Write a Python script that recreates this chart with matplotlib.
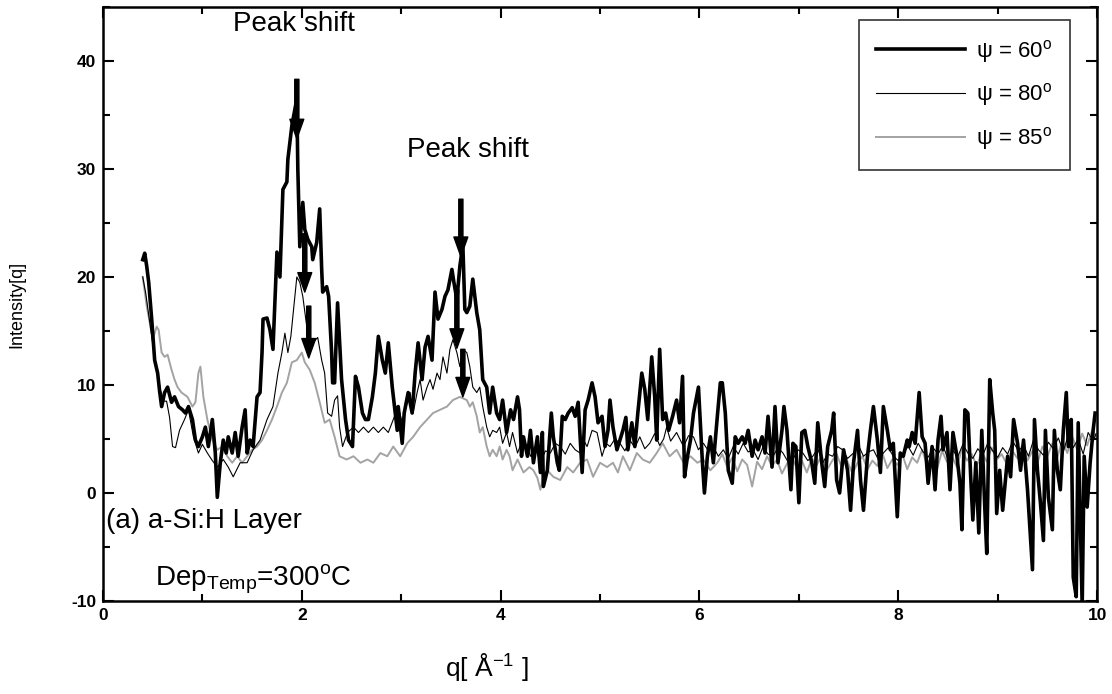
"""
Intensity vs q for a-Si:H layer at three psi angles (out.png).
"""

import matplotlib
matplotlib.use("Agg")
import matplotlib.pyplot as plt
from matplotlib.ticker import MultipleLocator

plt.rcParams["font.family"] = "Liberation Sans"
plt.rcParams["mathtext.fontset"] = "custom"
plt.rcParams["mathtext.rm"] = "Liberation Sans"
plt.rcParams["mathtext.it"] = "Liberation Sans:italic"
plt.rcParams["axes.unicode_minus"] = False

# psi = 60 deg (thick black)
q60 = [0.40, 0.42, 0.44, 0.46, 0.49, 0.52, 0.55, 0.57, 0.59, 0.62,
       0.65, 0.69, 0.72, 0.76, 0.80, 0.83, 0.86, 0.90, 0.93, 0.96,
       1.00, 1.03, 1.06, 1.10, 1.13, 1.15, 1.18, 1.21, 1.24, 1.26,
       1.30, 1.33, 1.36, 1.40, 1.43, 1.45, 1.48, 1.51, 1.55, 1.58,
       1.60, 1.61, 1.65, 1.68, 1.71, 1.75, 1.78, 1.81, 1.85, 1.86,
       1.90, 1.93, 1.95, 1.96, 1.98, 2.01, 2.03, 2.06, 2.10, 2.11,
       2.15, 2.18, 2.20, 2.21, 2.25, 2.27, 2.30, 2.31, 2.33, 2.36,
       2.40, 2.44, 2.47, 2.51, 2.54, 2.57, 2.61, 2.64, 2.67, 2.71,
       2.74, 2.77, 2.81, 2.84, 2.87, 2.91, 2.94, 2.96, 2.97, 3.01,
       3.03, 3.07, 3.11, 3.14, 3.17, 3.21, 3.24, 3.27, 3.31, 3.34,
       3.37, 3.41, 3.44, 3.47, 3.51, 3.53, 3.56, 3.59, 3.62, 3.64,
       3.66, 3.69, 3.72, 3.76, 3.79, 3.82, 3.86, 3.89, 3.92, 3.96,
       3.99, 4.02, 4.06, 4.10, 4.13, 4.17, 4.19, 4.21, 4.23, 4.27,
       4.30, 4.33, 4.37, 4.40, 4.42, 4.43, 4.47, 4.51, 4.53, 4.57,
       4.59, 4.62, 4.65, 4.68, 4.72, 4.75, 4.78, 4.82, 4.85, 4.88,
       4.92, 4.95, 4.98, 5.02, 5.05, 5.08, 5.10, 5.13, 5.17, 5.20,
       5.23, 5.26, 5.28, 5.32, 5.35, 5.38, 5.42, 5.45, 5.48, 5.52,
       5.55, 5.57, 5.60, 5.63, 5.66, 5.69, 5.73, 5.77, 5.80, 5.83,
       5.85, 5.88, 5.91, 5.94, 5.99, 6.03, 6.05, 6.08, 6.11, 6.14,
       6.18, 6.21, 6.23, 6.26, 6.29, 6.33, 6.36, 6.39, 6.43, 6.46,
       6.49, 6.53, 6.56, 6.59, 6.63, 6.66, 6.69, 6.73, 6.76, 6.79,
       6.83, 6.85, 6.88, 6.92, 6.94, 6.97, 7.00, 7.03, 7.06, 7.09,
       7.13, 7.16, 7.19, 7.23, 7.26, 7.29, 7.33, 7.35, 7.38, 7.41,
       7.45, 7.49, 7.52, 7.55, 7.59, 7.62, 7.65, 7.69, 7.72, 7.75,
       7.79, 7.82, 7.85, 7.89, 7.92, 7.95, 7.99, 8.02, 8.05, 8.09,
       8.11, 8.14, 8.17, 8.21, 8.24, 8.27, 8.30, 8.34, 8.37, 8.40,
       8.43, 8.45, 8.49, 8.52, 8.55, 8.59, 8.62, 8.64, 8.67, 8.70,
       8.73, 8.75, 8.78, 8.81, 8.84, 8.87, 8.89, 8.92, 8.95, 8.97,
       8.99, 9.02, 9.05, 9.10, 9.13, 9.16, 9.20, 9.23, 9.26, 9.30,
       9.33, 9.35, 9.37, 9.40, 9.43, 9.46, 9.48, 9.51, 9.55, 9.57,
       9.60, 9.63, 9.66, 9.69, 9.71, 9.74, 9.76, 9.79, 9.81, 9.85,
       9.87, 9.90, 9.93, 9.96, 9.98]
i60 = [21.6, 22.2, 21.0, 19.5, 16.1, 12.3, 11.1, 9.4, 8.0, 9.3,
       9.8, 8.4, 8.9, 8.0, 7.7, 7.4, 8.0, 6.8, 4.9, 4.3,
       5.2, 6.1, 4.3, 6.8, 3.7, -0.4, 2.8, 4.9, 3.7, 5.2,
       3.7, 5.6, 3.4, 6.1, 7.7, 3.7, 4.9, 4.3, 8.9, 9.3,
       13.0, 16.1, 16.2, 15.1, 13.3, 22.3, 20.0, 28.1, 28.8, 30.9,
       34.0, 35.5, 36.5, 30.0, 22.8, 26.9, 24.4, 23.5, 22.8, 21.6,
       23.2, 26.3, 20.7, 18.6, 19.1, 18.2, 13.0, 10.2, 10.2, 17.6,
       10.5, 6.8, 4.9, 4.3, 10.8, 9.8, 7.4, 6.8, 6.8, 8.9,
       11.1, 14.5, 12.3, 11.1, 13.9, 9.8, 7.4, 5.8, 8.0, 4.6,
       7.4, 9.3, 7.4, 11.1, 13.9, 10.5, 13.5, 14.5, 12.3, 18.6,
       16.1, 17.0, 18.2, 18.8, 20.7, 19.5, 17.9, 21.0, 23.0, 17.0,
       16.7, 17.3, 19.8, 16.7, 15.1, 10.5, 9.8, 7.4, 9.8, 7.4,
       6.8, 8.6, 5.6, 7.7, 6.8, 8.9, 7.7, 3.4, 5.2, 3.4,
       5.8, 2.8, 5.2, 1.9, 5.6, 0.6, 2.1, 7.4, 5.2, 2.8,
       2.1, 7.1, 6.8, 7.4, 7.9, 7.1, 8.4, 1.9, 7.7, 8.6,
       10.2, 8.9, 6.5, 7.1, 4.3, 5.8, 8.6, 6.1, 4.0, 4.9,
       5.8, 7.0, 4.0, 6.5, 4.3, 7.4, 11.1, 9.6, 6.8, 12.6,
       8.9, 4.9, 13.3, 6.8, 7.4, 5.8, 7.1, 8.6, 6.5, 10.8,
       1.5, 3.4, 4.9, 7.4, 9.8, 2.8, 0.0, 3.4, 5.2, 2.8,
       7.1, 10.2, 10.2, 7.4, 2.1, 0.9, 5.2, 4.6, 5.2, 4.6,
       5.8, 3.4, 4.9, 4.0, 5.2, 3.7, 7.1, 2.4, 8.0, 2.8,
       5.8, 8.0, 5.8, 0.3, 4.6, 4.3, -0.9, 5.6, 5.8, 4.3,
       2.8, 0.9, 6.5, 2.8, 0.6, 4.3, 5.8, 7.4, 1.2, 0.0,
       4.0, 2.1, -1.6, 2.8, 5.8, 1.2, -1.6, 3.4, 5.8, 8.0,
       4.9, 1.9, 8.0, 5.8, 4.0, 4.6, -2.2, 3.7, 3.4, 4.9,
       4.3, 5.6, 4.6, 9.3, 5.2, 4.6, 0.9, 4.3, 0.3, 4.9,
       7.1, 4.0, 5.6, 0.3, 5.6, 3.4, 0.9, -3.4, 7.7, 7.4,
       1.2, -2.5, 2.8, -3.7, 5.8, -1.3, -5.6, 10.5, 7.4, 5.8,
       -1.9, 2.1, -1.6, 3.4, 1.5, 6.8, 4.6, 2.1, 4.9, 0.3,
       -4.1, -7.1, 6.8, 2.1, -0.9, -4.4, 5.8, -0.4, -3.4, 5.8,
       2.1, 0.3, 5.8, 9.3, 4.3, 6.8, -7.8, -9.6, 6.5, -10.5,
       3.4, -1.3, 2.8, 5.8, 7.4]

# psi = 80 deg (thin black)
q80 = [0.40, 0.43, 0.46, 0.49, 0.52, 0.55, 0.58, 0.61, 0.64, 0.67,
       0.70, 0.73, 0.77, 0.82, 0.86, 0.91, 0.96, 1.00, 1.05, 1.10,
       1.15, 1.21, 1.26, 1.31, 1.38, 1.45, 1.51, 1.58, 1.65, 1.71,
       1.76, 1.80, 1.83, 1.86, 1.89, 1.92, 1.95, 1.98, 2.01, 2.05,
       2.08, 2.11, 2.16, 2.20, 2.23, 2.26, 2.30, 2.33, 2.36, 2.38,
       2.41, 2.46, 2.52, 2.57, 2.62, 2.67, 2.72, 2.77, 2.82, 2.87,
       2.92, 2.97, 3.01, 3.04, 3.09, 3.12, 3.16, 3.19, 3.22, 3.26,
       3.29, 3.32, 3.36, 3.39, 3.42, 3.46, 3.49, 3.52, 3.56, 3.59,
       3.62, 3.66, 3.69, 3.72, 3.76, 3.79, 3.82, 3.86, 3.89, 3.92,
       3.96, 3.99, 4.02, 4.06, 4.09, 4.12, 4.17, 4.22, 4.27, 4.30,
       4.35, 4.40, 4.45, 4.50, 4.55, 4.60, 4.65, 4.70, 4.75, 4.80,
       4.84, 4.87, 4.92, 4.97, 5.02, 5.06, 5.10, 5.15, 5.20, 5.25,
       5.30, 5.35, 5.40, 5.45, 5.50, 5.55, 5.60, 5.64, 5.67, 5.71,
       5.77, 5.84, 5.89, 5.94, 5.99, 6.04, 6.09, 6.14,
       6.19, 6.24, 6.29, 6.34, 6.39, 6.44, 6.49, 6.54, 6.59, 6.64,
       6.69, 6.74, 6.79, 6.84, 6.89, 6.94, 6.99, 7.04, 7.09, 7.14,
       7.19, 7.24, 7.29, 7.34, 7.39, 7.44, 7.49, 7.55, 7.60, 7.65,
       7.70, 7.75, 7.80, 7.85, 7.90, 7.95, 8.00, 8.05, 8.10, 8.15,
       8.20, 8.25, 8.30, 8.35, 8.40, 8.45, 8.50, 8.55, 8.60, 8.65,
       8.70, 8.75, 8.80, 8.85, 8.90, 8.95, 9.00, 9.05, 9.10, 9.15,
       9.21, 9.26, 9.31, 9.36, 9.41, 9.46, 9.51, 9.56, 9.61, 9.66,
       9.71, 9.76, 9.81, 9.86, 9.91, 9.96, 9.99]
i80 = [20.0, 18.5, 16.5, 14.5, 12.5, 11.0, 9.5, 8.5, 8.5, 7.0,
       4.3, 4.2, 5.8, 6.8, 7.7, 5.2, 3.7, 4.5, 3.7, 3.0,
       2.4, 3.1, 2.4, 1.5, 2.8, 2.8, 4.0, 4.9, 6.8, 8.0,
       11.1, 13.0, 14.8, 13.0, 14.5, 17.3, 20.0, 19.5, 18.2, 15.4,
       13.5, 13.9, 14.4, 12.3, 11.1, 7.4, 7.1, 8.6, 9.0, 6.1,
       4.3, 5.6, 6.1, 5.6, 6.1, 5.6, 6.1, 5.6, 6.1, 5.6,
       6.8, 8.0, 6.5, 7.7, 9.3, 7.4, 9.3, 10.5, 8.6, 9.8,
       10.5, 9.6, 11.1, 10.5, 12.6, 11.1, 13.3, 14.2, 13.0, 11.7,
       13.3, 13.0, 11.7, 9.8, 9.3, 9.8, 8.0, 6.1, 5.2, 5.8,
       5.6, 6.1, 4.6, 5.6, 4.3, 5.6, 3.7, 4.9, 4.3, 3.4,
       4.2, 2.8, 3.9, 3.7, 4.6, 4.3, 3.6, 4.6, 4.0, 3.7,
       4.8, 4.3, 5.8, 5.6, 3.4, 4.6, 4.3, 5.0, 4.6, 3.9,
       4.9, 4.2, 5.2, 4.1, 4.6, 5.5, 4.4, 5.0, 6.1, 4.8,
       5.6, 4.3, 5.3, 5.2, 4.0, 4.6, 3.9, 4.3,
       3.4, 4.0, 3.2, 4.3, 3.6, 4.6, 3.8, 4.0, 3.1, 4.3,
       3.6, 3.4, 4.2, 3.7, 2.9, 3.1, 4.0, 3.7, 3.0, 3.4,
       4.1, 2.8, 3.6, 3.4, 4.3, 4.0, 3.2, 3.7, 4.4, 3.4,
       3.8, 4.0, 3.1, 3.7, 4.2, 3.4, 3.0, 3.7, 4.3, 3.5,
       4.6, 3.8, 3.3, 4.2, 3.6, 4.4, 3.1, 3.9, 3.4, 4.5,
       3.7, 3.2, 4.1, 3.5, 4.6, 3.9, 3.3, 4.2, 3.6, 4.8,
       3.9, 4.4, 3.4, 4.9, 4.0, 3.5, 4.7, 4.1, 5.1, 3.8,
       5.4, 4.2, 5.0, 3.6, 5.6, 4.8, 5.5]

# psi = 85 deg (grey)
q85 = [0.40, 0.44, 0.47, 0.50, 0.54, 0.56, 0.59, 0.62, 0.65, 0.69,
       0.72, 0.75, 0.79, 0.85, 0.90, 0.93, 0.96, 0.98, 1.01, 1.05,
       1.10, 1.15, 1.20, 1.25, 1.30, 1.35, 1.40, 1.45, 1.50, 1.55,
       1.60, 1.65, 1.70, 1.75, 1.80, 1.85, 1.90, 1.95, 2.00, 2.03,
       2.08, 2.13, 2.18, 2.23, 2.28, 2.33, 2.38, 2.45, 2.52, 2.59,
       2.66, 2.72, 2.79, 2.86, 2.92, 2.99, 3.06, 3.12, 3.19, 3.26,
       3.32, 3.39, 3.46, 3.52, 3.59, 3.66, 3.69, 3.72, 3.76, 3.79,
       3.82, 3.86, 3.89, 3.92, 3.96, 3.99, 4.02, 4.06, 4.09, 4.12,
       4.17, 4.23, 4.29, 4.33, 4.37, 4.40, 4.43, 4.47, 4.53, 4.60,
       4.67, 4.73, 4.80, 4.87, 4.93, 5.00, 5.07, 5.13, 5.18, 5.23,
       5.30, 5.37, 5.43, 5.50, 5.57, 5.63, 5.70, 5.77, 5.84, 5.91,
       5.98, 6.04, 6.11, 6.18,
       6.23, 6.28, 6.33, 6.38, 6.43, 6.48, 6.53, 6.58, 6.63, 6.68,
       6.73, 6.78, 6.83, 6.88, 6.93, 6.98, 7.03, 7.08, 7.13, 7.18,
       7.23, 7.28, 7.33, 7.38, 7.43, 7.48, 7.54, 7.59, 7.64, 7.69,
       7.74, 7.79, 7.84, 7.89, 7.94, 7.99, 8.04, 8.09, 8.14, 8.19,
       8.24, 8.29, 8.34, 8.39, 8.44, 8.49, 8.54, 8.59, 8.64, 8.69,
       8.74, 8.79, 8.84, 8.89, 8.94, 8.99, 9.04, 9.09, 9.14, 9.20,
       9.25, 9.30, 9.35, 9.40, 9.45, 9.50, 9.55, 9.60, 9.65, 9.70,
       9.75, 9.80, 9.85, 9.90, 9.95, 9.99]
i85 = [20.0, 17.3, 15.8, 14.2, 15.4, 15.1, 13.0, 12.6, 12.8, 11.4,
       10.5, 9.8, 9.3, 8.9, 8.0, 8.4, 11.1, 11.7, 8.9, 6.8,
       4.9, 4.0, 4.3, 3.4, 2.8, 3.4, 2.8, 3.4, 4.0, 4.3,
       4.9, 5.8, 6.8, 8.0, 9.3, 10.2, 12.1, 12.3, 13.0, 12.1,
       11.4, 10.2, 8.4, 6.5, 6.8, 5.2, 3.4, 3.1, 3.4, 2.8,
       3.1, 2.8, 3.7, 3.4, 4.3, 3.4, 4.6, 5.2, 6.1, 6.8,
       7.4, 7.7, 8.0, 8.6, 8.9, 8.6, 8.0, 8.4, 7.1, 5.6,
       6.1, 4.3, 3.4, 4.0, 3.4, 4.3, 3.1, 4.0, 3.4, 2.1,
       3.1, 1.9, 2.4, 2.1, 1.4, 0.3, 1.6, 2.1, 1.5, 1.2,
       2.4, 1.9, 2.8, 3.1, 1.5, 2.8, 2.4, 2.8, 1.9, 3.4,
       2.1, 3.7, 3.1, 2.8, 3.7, 4.6, 3.4, 4.0, 2.8, 3.4,
       2.8, 3.1, 2.1, 2.8,
       3.6, 2.4, 3.3, 2.0, 3.1, 2.6, 0.6, 2.9, 2.2, 3.4,
       2.5, 3.1, 1.8, 2.7, 3.3, 2.3, 3.0, 1.9, 3.2, 2.6,
       3.5, 2.1, 2.9, 3.6, 2.4, 3.1, 1.8, 2.8, 3.4, 2.2,
       3.0, 2.5, 3.7, 2.3, 3.1, 2.6, 3.6, 2.2, 3.3, 2.8,
       4.0, 2.6, 3.5, 2.2, 3.9, 2.9, 3.4, 2.4, 4.1, 3.0,
       3.6, 2.5, 3.8, 2.9, 4.2, 3.1, 3.6, 2.7, 4.0, 3.2,
       4.5, 3.0, 3.9, 2.8, 4.3, 3.4, 4.6, 3.3, 4.9, 3.7,
       5.2, 4.0, 5.5, 4.4, 5.8, 5.2]

labels = ["ψ = 60$^{\\mathrm{o}}$", "ψ = 80$^{\\mathrm{o}}$", "ψ = 85$^{\\mathrm{o}}$"]

# arrows: (q, start intensity, tip intensity)
arrows = [(1.95, 38.3, 32.8), (2.03, 24.0, 18.6), (2.07, 17.3, 12.5),
          (3.60, 27.2, 21.9), (3.56, 18.8, 13.4), (3.62, 13.3, 8.9)]


def main() -> None:
    fig = plt.figure(figsize=(11.12, 6.94), dpi=100)
    ax = fig.add_axes([0.0926, 0.134, 0.894, 0.856])

    ax.plot(q85, i85, color="#a3a3a3", lw=1.4, label=labels[2], zorder=2)
    ax.plot(q80, i80, color="black", lw=0.8, label=labels[1], zorder=3)
    ax.plot(q60, i60, color="black", lw=2.6, label=labels[0], zorder=4)

    for q, y0, y1 in arrows:
        ax.annotate("", xy=(q, y1), xytext=(q, y0),
                    arrowprops=dict(facecolor="black", edgecolor="black",
                                    width=3, headwidth=10, headlength=14,
                                    shrink=0), zorder=5)

    ax.text(1.92, 43.4, "Peak shift", fontsize=20, ha="center", va="center")
    ax.text(3.67, 31.8, "Peak shift", fontsize=20, ha="center", va="center")
    ax.text(0.03, -2.6, "(a) a-Si:H Layer", fontsize=20, ha="left", va="center")
    ax.text(0.52, -8.0, "Dep$_{\\mathrm{Temp}}$=300$^{\\mathrm{o}}$C",
            fontsize=20, ha="left", va="center")

    ax.set_xlim(0, 10)
    ax.set_ylim(-10, 45)
    ax.xaxis.set_major_locator(MultipleLocator(2))
    ax.xaxis.set_minor_locator(MultipleLocator(1))
    ax.yaxis.set_minor_locator(MultipleLocator(5))
    ax.set_yticks([-10, 0, 10, 20, 30, 40])
    ax.tick_params(which="both", direction="in", top=True, right=True,
                   width=1.5, labelsize=12.5, pad=5)
    ax.tick_params(which="major", length=8)
    ax.tick_params(which="minor", length=5)
    for lab in ax.get_xticklabels() + ax.get_yticklabels():
        lab.set_fontweight("bold")
    for sp in ax.spines.values():
        sp.set_linewidth(1.8)

    ax.set_xlabel("q[ Å$^{-1}$ ]", fontsize=19)
    ax.xaxis.set_label_coords(0.386, -0.085)
    ax.set_ylabel("Intensity[q]", fontsize=13)
    ax.yaxis.set_label_coords(-0.078, 0.5)

    handles, labs = ax.get_legend_handles_labels()
    leg = ax.legend(handles[::-1], labs[::-1], loc="upper right",
                    bbox_to_anchor=(0.973, 0.978), borderaxespad=0,
                    fontsize=16, handlelength=4.0, labelspacing=0.75,
                    fancybox=False, frameon=True, handletextpad=0.5,
                    borderpad=0.8)
    leg.get_frame().set_edgecolor("black")
    leg.get_frame().set_linewidth(1.2)

    fig.savefig("out.png", dpi=100)
    plt.close(fig)


if __name__ == "__main__":
    main()
